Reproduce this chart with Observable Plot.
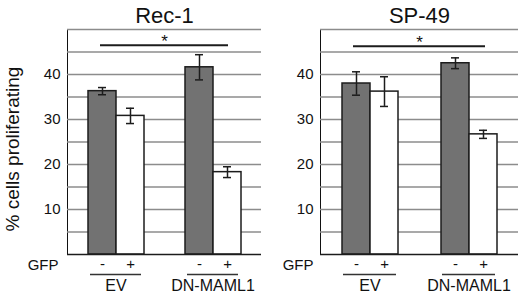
<!DOCTYPE html>
<html>
<head>
<meta charset="utf-8">
<script src="https://cdn.jsdelivr.net/npm/d3@7"></script>
<script src="https://cdn.jsdelivr.net/npm/@observablehq/plot@0.6"></script>
<style>
  html, body { margin: 0; padding: 0; background: #fff; }
  #wrap { position: relative; width: 520px; height: 294px; overflow: hidden; font-family: "Liberation Sans", Arial, sans-serif; }
  .panel { position: absolute; top: 0; }
</style>
</head>
<body>
<div id="wrap">
  <div class="panel" id="p1" style="left:0px"></div>
  <div class="panel" id="p2" style="left:262px"></div>
</div>
<script>
// ---- data ----
const panelTitles = ["Rec-1", "SP-49"];
const groups = ["EV", "DN-MAML1"];
const gfpLevels = ["-", "+"];
// order: EV -, EV +, DN-MAML1 -, DN-MAML1 +
const rec1Mean = [36.3, 30.8, 41.6, 18.3];
const rec1Err  = [0.8, 1.7, 2.8, 1.2];
const sp49Mean = [38.0, 36.2, 42.5, 26.7];
const sp49Err  = [2.6, 3.3, 1.2, 0.9];
const sigLevel = [46.5, 46.3];
const yTicks = [10, 20, 30, 40];
const gridValues = [5, 10, 15, 20, 25, 30, 35, 40, 45, 50];
const yLabel = "% cells proliferating";

const GREY = "#727272";
const DARK = "#1c1c1c";

function makePanel(title, means, errs, sig, o) {
  const rows = means.map((m, i) => ({
    group: groups[Math.floor(i / 2)],
    gfp: gfpLevels[i % 2],
    mean: m,
    err: errs[i]
  }));
  const marks = [
    Plot.ruleY(gridValues, {stroke: "#8c8c8c", strokeWidth: 1.5}),
    Plot.barY(rows, {fx: "group", x: "gfp", y: "mean", fill: "gfp", stroke: DARK, strokeWidth: 1.5}),
    Plot.ruleY([0], {stroke: DARK, strokeWidth: 1.5}),
    Plot.ruleX(rows, {fx: "group", x: "gfp", y1: d => d.mean - d.err, y2: d => d.mean + d.err, stroke: DARK, strokeWidth: 1.5}),
    Plot.tickY(rows, {fx: "group", x: "gfp", y: d => d.mean - d.err, stroke: DARK, strokeWidth: 1.5, insetLeft: 10, insetRight: 10}),
    Plot.tickY(rows, {fx: "group", x: "gfp", y: d => d.mean + d.err, stroke: DARK, strokeWidth: 1.5, insetLeft: 10, insetRight: 10}),
    // significance bar spanning both groups
    Plot.ruleY([{group: groups[0], y: sig}], {fx: "group", y: "y", stroke: DARK, strokeWidth: 2, insetLeft: 33}),
    Plot.ruleY([{group: groups[1], y: sig}], {fx: "group", y: "y", stroke: DARK, strokeWidth: 2, insetRight: 33}),
    Plot.text([{group: groups[0], y: sig}], {fx: "group", y: "y", text: () => "*", frameAnchor: "right", textAnchor: "middle", fontSize: 17, dy: -4}),
    // title
    Plot.text([{group: groups[0], t: title}], {fx: "group", text: "t", frameAnchor: "top-right", textAnchor: "middle", lineAnchor: "middle", dy: -14, fontSize: 22}),
    // group underline and labels
    Plot.ruleY([0], {dy: 20, insetLeft: 23, insetRight: 23, stroke: "#333", strokeWidth: 1.5}),
    Plot.text(groups, {fx: d => d, text: d => d, frameAnchor: "bottom", lineAnchor: "middle", dy: 31, fontSize: 16}),
    Plot.text([{group: groups[0]}], {fx: "group", text: () => "GFP", frameAnchor: "bottom-left", textAnchor: "end", lineAnchor: "middle", dx: o.gfpDx, dy: 11, fontSize: 15})
  ];
  if (o.showYLabel) {
    marks.push(Plot.text([{group: groups[0]}], {fx: "group", text: () => yLabel, frameAnchor: "left", textAnchor: "middle", lineAnchor: "middle", rotate: -90, dx: -55, dy: 7, fontSize: 19}));
  }
  return Plot.plot({
    width: o.width,
    height: 294,
    marginLeft: o.marginLeft,
    marginRight: o.marginRight,
    marginTop: 29,
    marginBottom: 40,
    style: {fontFamily: "'Liberation Sans', Arial, sans-serif", fontSize: "15px", background: "white", color: "#111", overflow: "visible"},
    fx: {domain: groups, padding: 0, axis: null},
    x: {domain: gfpLevels, paddingInner: 0, paddingOuter: 0.73, tickSize: 0, tickPadding: 4, label: null},
    y: {domain: [0, 50], ticks: yTicks, tickSize: 0, tickPadding: 7, label: null, line: true},
    color: {domain: gfpLevels, range: [GREY, "#ffffff"]},
    marks
  });
}

document.getElementById("p1").appendChild(
  makePanel(panelTitles[0], rec1Mean, rec1Err, sigLevel[0], {width: 262, marginLeft: 67, marginRight: 1, showYLabel: true, gfpDx: -9})
);
document.getElementById("p2").appendChild(
  makePanel(panelTitles[1], sp49Mean, sp49Err, sigLevel[1], {width: 258, marginLeft: 58, marginRight: 2, showYLabel: false, gfpDx: -7})
);
</script>
</body>
</html>
